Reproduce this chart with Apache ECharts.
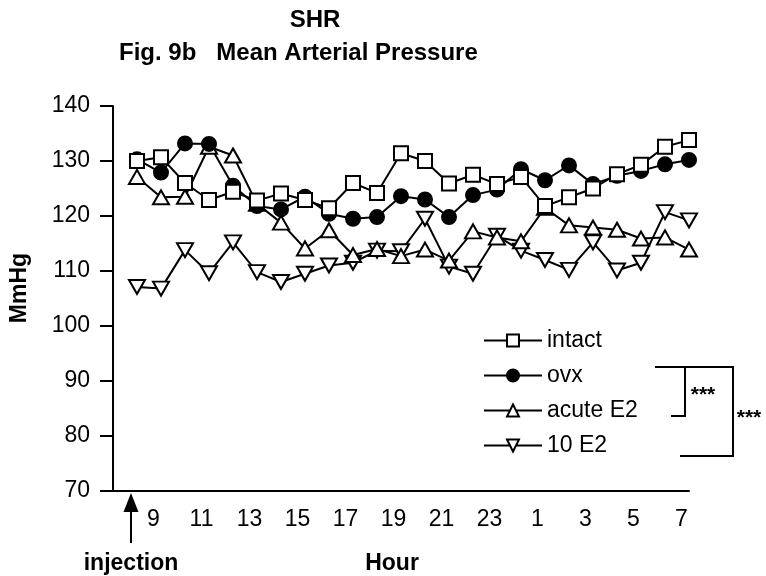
<!DOCTYPE html>
<html>
<head>
<meta charset="utf-8">
<script src="https://cdn.jsdelivr.net/npm/echarts@6/dist/echarts.min.js"></script>
<style>
  html, body { margin: 0; padding: 0; background: #fff; }
  #chart { width: 766px; height: 576px; }
</style>
</head>
<body>
<div id="chart"></div>
<script>
// hours of the recording, one point per hour starting 8:00
const hours = [8, 9, 10, 11, 12, 13, 14, 15, 16, 17, 18, 19, 20, 21, 22, 23, 0, 1, 2, 3, 4, 5, 6, 7]
const tickLabels = ['9', '11', '13', '15', '17', '19', '21', '23', '1', '3', '5', '7']

const intact = [130.0, 130.7, 126.0, 122.9, 124.4, 122.8, 124.1, 122.9, 121.4, 126.0, 124.2, 131.4,
  130.0, 125.9, 127.5, 125.8, 127.1, 121.8, 123.4, 125.0, 127.6, 129.3, 132.6, 133.8]
const ovx = [130.3, 127.9, 133.2, 133.1, 125.5, 121.8, 121.2, 123.5, 120.4, 119.5, 119.8, 123.6,
  123.0, 119.8, 123.8, 124.8, 128.5, 126.5, 129.2, 125.8, 127.3, 128.2, 129.4, 130.2]
const acuteE2 = [127.1, 123.4, 123.5, 132.6, 131.0, 122.2, 118.8, 114.1, 117.4, 112.9, 114.0, 112.7,
  113.9, 111.9, 117.2, 116.1, 115.4, 121.5, 118.3, 117.9, 117.5, 115.9, 116.1, 113.9]
const tenE2 = [107.1, 106.8, 113.8, 109.6, 115.2, 109.8, 108.0, 109.5, 111.0, 111.5, 113.7, 113.6,
  119.5, 110.8, 109.5, 116.4, 113.7, 112.0, 110.2, 115.2, 110.1, 111.5, 120.7, 119.2]

const font = 'Liberation Sans, Arial, sans-serif'
const toPoints = arr => arr.map((v, i) => [i, v])

const lineSeries = (name, values, symbol, size, fill, rotate) => ({
  name,
  type: 'line',
  data: toPoints(values),
  symbol,
  symbolSize: size,
  symbolRotate: rotate || 0,
  showAllSymbol: true,
  animation: false,
  lineStyle: { color: '#000', width: 2 },
  itemStyle: { color: fill, borderColor: '#000', borderWidth: 2 },
  emphasis: { disabled: true }
})

const chart = echarts.init(document.getElementById('chart'))
chart.setOption({
  backgroundColor: '#fff',
  animation: false,
  grid: { left: 113, right: 77, top: 106, bottom: 85 },
  xAxis: {
    type: 'value',
    min: -1,
    max: 23,
    interval: 1,
    axisLine: { onZero: false, lineStyle: { color: '#000', width: 2 } },
    axisTick: { show: false },
    splitLine: { show: false },
    axisLabel: {
      color: '#000',
      fontSize: 23,
      fontFamily: font,
      margin: 17,
      padding: [0, 15, 0, 0],
      showMinLabel: true,
      showMaxLabel: true,
      formatter: v => (v > 0 && v % 2 === 1) ? tickLabels[(v - 1) / 2] : ''
    }
  },
  yAxis: {
    type: 'value',
    min: 70,
    max: 140,
    interval: 10,
    axisLine: { show: true, onZero: false, lineStyle: { color: '#000', width: 2 } },
    axisTick: { show: true, length: 13, lineStyle: { color: '#000', width: 2 } },
    splitLine: { show: false },
    axisLabel: { color: '#000', fontSize: 23, fontFamily: font, margin: 23 }
  },
  legend: {
    orient: 'vertical',
    left: 478,
    top: 324,
    itemWidth: 58,
    itemHeight: 15,
    itemGap: 12,
    selectedMode: false,
    data: ['intact', 'ovx', 'acute E2', '10 E2'],
    textStyle: { color: '#000', fontSize: 23, fontFamily: font }
  },
  series: [
    lineSeries('10 E2', tenE2, 'triangle', [16, 14], '#fff', 180),
    lineSeries('acute E2', acuteE2, 'triangle', [16, 14], '#fff'),
    lineSeries('ovx', ovx, 'circle', 14, '#000'),
    lineSeries('intact', intact, 'rect', 14, '#fff')
  ],
  graphic: [
    { type: 'text', x: 315, y: 20, style: { text: 'SHR', font: 'bold 24px ' + font, fill: '#000', textAlign: 'center', textVerticalAlign: 'middle' } },
    { type: 'text', x: 119, y: 53, style: { text: 'Fig. 9b   Mean Arterial Pressure', font: 'bold 24px ' + font, fill: '#000', textAlign: 'left', textVerticalAlign: 'middle' } },
    { type: 'text', x: 20, y: 288, rotation: Math.PI / 2, style: { text: 'MmHg', font: 'bold 23px ' + font, fill: '#000', textAlign: 'center', textVerticalAlign: 'middle' } },
    { type: 'text', x: 392, y: 564, style: { text: 'Hour', font: 'bold 23px ' + font, fill: '#000', textAlign: 'center', textVerticalAlign: 'middle' } },
    { type: 'text', x: 131, y: 564, style: { text: 'injection', font: 'bold 23px ' + font, fill: '#000', textAlign: 'center', textVerticalAlign: 'middle' } },
    // injection arrow
    { type: 'polygon', shape: { points: [[131, 493], [123.5, 512], [138.5, 512]] }, style: { fill: '#000' } },
    { type: 'line', shape: { x1: 131, y1: 510, x2: 131, y2: 543 }, style: { stroke: '#000', lineWidth: 2 } },
    // significance brackets
    { type: 'polyline', shape: { points: [[655, 367], [733, 367], [733, 456], [680, 456]] }, style: { stroke: '#000', lineWidth: 2, fill: null } },
    { type: 'polyline', shape: { points: [[685, 367], [685, 416], [671, 416]] }, style: { stroke: '#000', lineWidth: 2, fill: null } },
    { type: 'text', x: 703, y: 395, style: { text: '***', font: 'bold 21px ' + font, fill: '#000', textAlign: 'center', textVerticalAlign: 'middle' } },
    { type: 'text', x: 749, y: 418, style: { text: '***', font: 'bold 21px ' + font, fill: '#000', textAlign: 'center', textVerticalAlign: 'middle' } }
  ]
})
</script>
</body>
</html>
